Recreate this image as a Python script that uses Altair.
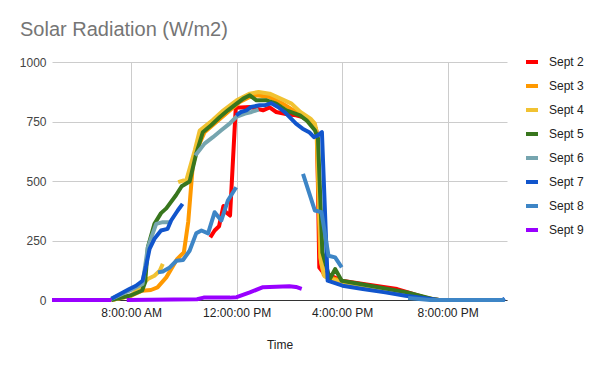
import altair as alt
import pandas as pd

# ---- data (time of day, W/m2) ----
series_names = ["Sept 2", "Sept 3", "Sept 4", "Sept 5", "Sept 6", "Sept 7", "Sept 8", "Sept 9"]
colors = ["#ff0000", "#ff9900", "#f1c232", "#38761d", "#76a5af", "#1155cc", "#3d85c6", "#9900ff"]
widths = [4, 4, 5.5, 4, 4, 4, 4.5, 6.5]

# each series is a list of segments; each segment is (times, values)
sept2 = [
    (["11:00", "11:10", "11:20", "11:30", "11:35", "11:45", "11:58", "12:30", "12:45", "13:00", "13:15", "13:30",
      "13:55", "14:15", "14:30", "14:47", "15:00", "15:03", "15:08", "15:17", "15:35", "15:59", "16:48", "18:05",
      "18:30", "19:20", "19:40"],
     [263, 292, 310, 395, 370, 355, 808, 811, 804, 797, 809, 790,
      780, 776, 769, 748, 721, 700, 137, 116, 102, 81, 67, 46,
      32, 4, 0]),
]
sept3 = [
    (["07:15", "08:00", "08:25", "08:45", "09:00", "09:20", "09:45", "10:00", "10:10", "10:20", "10:28", "10:47",
      "11:14", "11:45", "12:07", "12:30", "12:45", "13:15", "13:45", "14:15", "14:40", "14:55", "15:02", "15:10",
      "15:18", "15:25", "15:32", "16:10", "17:25", "18:30", "19:25", "19:40"],
     [0, 18, 39, 42, 53, 95, 173, 200, 330, 560, 625, 705,
      748, 797, 832, 853, 860, 853, 825, 790, 762, 741, 699, 179,
      106, 95, 95, 74, 46, 25, 4, 0]),
]
sept4 = [
    (["07:15", "08:00", "08:38", "08:53", "09:05", "09:12"],
     [0, 18, 88, 102, 123, 152]),
    (["09:47", "09:58", "10:05", "10:25", "10:36", "11:05", "11:30", "12:00", "12:30", "12:50", "13:15", "13:40",
      "14:05", "14:25", "14:48", "14:58", "15:03", "15:12", "15:20", "15:30", "16:10", "17:25", "18:30", "19:25",
      "19:40"],
     [495, 502, 500, 630, 712, 755, 797, 839, 867, 874, 867, 846,
      825, 790, 762, 741, 699, 160, 100, 90, 72, 44, 23, 3,
      0]),
]
sept5 = [
    (["07:15", "08:00", "08:25", "08:32", "08:38", "08:53", "09:08", "09:20", "09:42", "09:55", "10:13", "10:28",
      "10:43", "11:02", "11:22", "11:40", "12:00", "12:15", "12:30", "12:45", "13:08", "13:30", "13:53", "14:24",
      "14:39", "14:58", "15:05", "15:15", "15:32", "15:44", "15:59", "16:41", "18:28", "19:25", "19:40"],
     [0, 20, 40, 75, 221, 320, 365, 385, 440, 478, 498, 614,
      705, 734, 769, 797, 825, 846, 860, 839, 839, 825, 797, 776,
      755, 713, 680, 200, 88, 130, 81, 67, 32, 4, 0]),
]
sept6 = [
    (["07:15", "07:56", "08:26", "08:38", "08:46", "08:57", "09:12", "09:27"],
     [5, 39, 67, 221, 263, 320, 327, 327]),
    (["10:26", "10:47", "11:06", "11:25", "11:44", "11:59", "12:19", "12:34", "12:50"],
     [607, 657, 684, 713, 741, 769, 783, 790, 800]),
]
sept7 = [
    (["07:15", "07:56", "08:11", "08:26", "08:34", "08:42", "08:53", "09:08", "09:23", "09:31", "09:46", "09:57"],
     [5, 46, 60, 81, 144, 215, 257, 292, 299, 334, 376, 404]),
    (["11:59", "12:10", "12:22", "12:33", "12:52", "13:04", "13:19", "13:34", "13:49", "14:00", "14:15", "14:30",
      "14:45", "14:56", "15:04", "15:14", "15:27", "16:01", "16:47", "17:38", "18:24", "19:22", "19:40", "22:05",
      "22:10"],
     [776, 790, 797, 811, 818, 818, 827, 811, 790, 769, 741, 720,
      705, 684, 691, 705, 81, 60, 46, 32, 18, 4, 0, 0,
      6]),
]
sept8 = [
    (["09:01", "09:12", "09:28", "09:43", "09:58", "10:13", "10:28", "10:40", "10:55", "11:10", "11:25", "11:40",
      "11:59"],
     [116, 120, 137, 165, 168, 207, 280, 292, 280, 369, 334, 418,
      474]),
    (["14:31", "14:58", "15:13", "15:29", "15:44", "15:59"],
     [530, 376, 369, 186, 179, 137]),
    (["18:30", "19:20", "22:10"],
     [8, 0, 0]),
]
sept9 = [
    (["05:00", "07:15"],
     [0, 0]),
    (["07:50", "10:30", "10:45", "11:45", "12:00", "12:30", "13:00", "13:30", "14:00", "14:15", "14:28"],
     [0, 3, 10, 10, 12, 32, 54, 56, 58, 55, 47]),
]
all_series = [sept2, sept3, sept4, sept5, sept6, sept7, sept8, sept9]
tick_hours = [8, 12, 16, 20]

rows = []
for name, segs in zip(series_names, all_series):
    for k, (ts, vs) in enumerate(segs):
        for t, v in zip(ts, vs):
            rows.append({"series": name, "seg": f"{name}-{k}",
                         "time": f"2020-09-02T{t}:00", "value": v})
df = pd.DataFrame(rows)

FONT = "Liberation Sans"

chart = alt.Chart(df).mark_line(strokeJoin="round").encode(
    x=alt.X("time:T",
            scale=alt.Scale(domain=[alt.DateTime(year=2020, month=9, date=2, hours=5),
                                    alt.DateTime(year=2020, month=9, date=2, hours=22, minutes=15)]),
            axis=alt.Axis(values=[alt.DateTime(year=2020, month=9, date=2, hours=h) for h in tick_hours],
                          format="%-I:%M:%S %p", title="Time", grid=True, gridColor="#cccccc",
                          ticks=False, tickSize=0, domainColor="#333333", labelPadding=7,
                          labelFont=FONT, labelFontSize=12, labelColor="#222222",
                          titleFont=FONT, titleFontSize=12, titleFontWeight="normal", titleColor="#222222",
                          titlePadding=21)),
    y=alt.Y("value:Q", scale=alt.Scale(domain=[0, 1000]),
            axis=alt.Axis(values=[0, 250, 500, 750, 1000], format="d", title=None, domain=False, ticks=False,
                          tickSize=0, gridColor="#cccccc", labelPadding=6, labelFont=FONT, labelFontSize=12,
                          labelColor="#444444")),
    color=alt.Color("series:N", scale=alt.Scale(domain=series_names, range=colors),
                    legend=alt.Legend(title=None, orient="none", legendX=472, legendY=-8,
                                      symbolType="stroke", symbolStrokeWidth=4, symbolSize=144,
                                      labelFont=FONT, labelFontSize=12, labelColor="#222222",
                                      labelOffset=9, rowPadding=8, padding=0)),
    strokeWidth=alt.StrokeWidth("series:N", scale=alt.Scale(domain=series_names, range=widths), legend=None),
    detail="seg:N",
).properties(
    width=455, height=238,
    autosize=alt.AutoSizeParams(type="none"),
    padding={"left": 44, "top": 54, "right": 80, "bottom": 55},
    title=alt.TitleParams("Solar Radiation (W/m2)", anchor="start", frame="group", dx=-32, offset=14,
                          font=FONT, fontSize=20, fontWeight="normal", color="#757575"),
).configure_view(stroke=None)

chart.save("out.html", embed_options={"renderer": "svg", "actions": False})
